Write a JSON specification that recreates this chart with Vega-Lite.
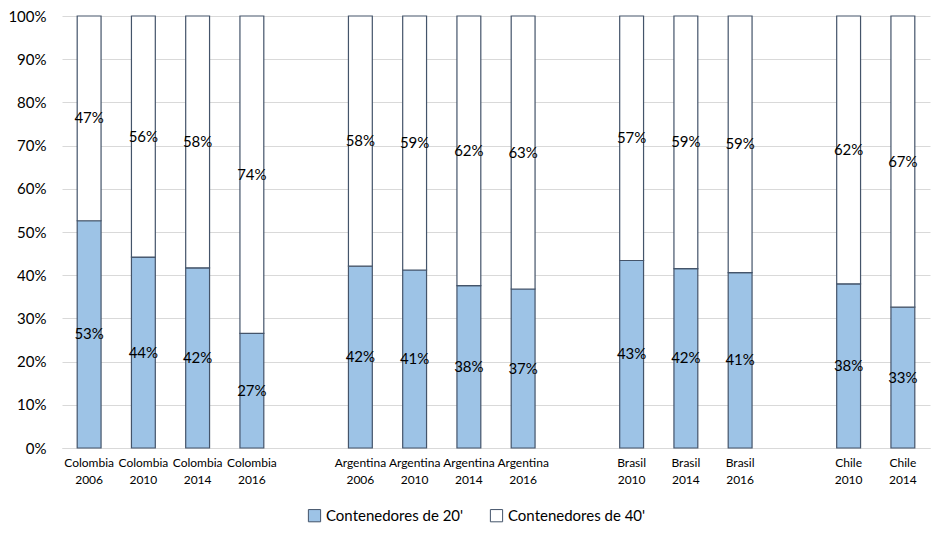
{
  "$schema": "https://vega.github.io/schema/vega-lite/v6.json",
  "width": 868,
  "height": 432,
  "autosize": "none",
  "padding": {"left": 62, "top": 16, "right": 4, "bottom": 86},
  "background": "white",
  "config": {
    "view": {"stroke": null},
    "font": "Lato",
    "axis": {"labelFont": "Lato", "labelColor": "#000000"},
    "legend": {"labelFont": "Lato"}
  },
  "data": {
    "values": [
      {"cat": "Colombia 2006", "serie": "Contenedores de 20'", "share": 0.526},
      {"cat": "Colombia 2006", "serie": "Contenedores de 40'", "share": 0.474},
      {"cat": "Colombia 2010", "serie": "Contenedores de 20'", "share": 0.442},
      {"cat": "Colombia 2010", "serie": "Contenedores de 40'", "share": 0.558},
      {"cat": "Colombia 2014", "serie": "Contenedores de 20'", "share": 0.417},
      {"cat": "Colombia 2014", "serie": "Contenedores de 40'", "share": 0.583},
      {"cat": "Colombia 2016", "serie": "Contenedores de 20'", "share": 0.266},
      {"cat": "Colombia 2016", "serie": "Contenedores de 40'", "share": 0.736},
      {"cat": "Argentina 2006", "serie": "Contenedores de 20'", "share": 0.421},
      {"cat": "Argentina 2006", "serie": "Contenedores de 40'", "share": 0.579},
      {"cat": "Argentina 2010", "serie": "Contenedores de 20'", "share": 0.412},
      {"cat": "Argentina 2010", "serie": "Contenedores de 40'", "share": 0.588},
      {"cat": "Argentina 2014", "serie": "Contenedores de 20'", "share": 0.376},
      {"cat": "Argentina 2014", "serie": "Contenedores de 40'", "share": 0.624},
      {"cat": "Argentina 2016", "serie": "Contenedores de 20'", "share": 0.368},
      {"cat": "Argentina 2016", "serie": "Contenedores de 40'", "share": 0.632},
      {"cat": "Brasil 2010", "serie": "Contenedores de 20'", "share": 0.434},
      {"cat": "Brasil 2010", "serie": "Contenedores de 40'", "share": 0.566},
      {"cat": "Brasil 2014", "serie": "Contenedores de 20'", "share": 0.416},
      {"cat": "Brasil 2014", "serie": "Contenedores de 40'", "share": 0.586},
      {"cat": "Brasil 2016", "serie": "Contenedores de 20'", "share": 0.406},
      {"cat": "Brasil 2016", "serie": "Contenedores de 40'", "share": 0.594},
      {"cat": "Chile 2010", "serie": "Contenedores de 20'", "share": 0.38},
      {"cat": "Chile 2010", "serie": "Contenedores de 40'", "share": 0.62},
      {"cat": "Chile 2014", "serie": "Contenedores de 20'", "share": 0.326},
      {"cat": "Chile 2014", "serie": "Contenedores de 40'", "share": 0.674}
    ]
  },
  "encoding": {
    "x": {
      "field": "cat",
      "type": "nominal",
      "sort": null,
      "scale": {
        "domain": ["Colombia 2006", "Colombia 2010", "Colombia 2014", "Colombia 2016", "gap1",
                   "Argentina 2006", "Argentina 2010", "Argentina 2014", "Argentina 2016", "gap2",
                   "Brasil 2010", "Brasil 2014", "Brasil 2016", "gap3",
                   "Chile 2010", "Chile 2014"],
        "paddingInner": 0.56,
        "paddingOuter": 0.28
      },
      "axis": {
        "title": null,
        "labelAngle": 0,
        "labelFontSize": 12,
        "labelLineHeight": 17,
        "labelPadding": 9,
        "ticks": false,
        "domainColor": "#D9D9D9",
        "labelExpr": "indexof(datum.value, 'gap') == 0 ? '' : split(datum.value, ' ')"
      }
    },
    "y": {
      "field": "share",
      "type": "quantitative",
      "stack": "normalize",
      "scale": {"domain": [0, 1]},
      "axis": {
        "title": null,
        "format": ".0%",
        "values": [0, 0.1, 0.2, 0.3, 0.4, 0.5, 0.6, 0.7, 0.8, 0.9, 1],
        "labelFontSize": 15,
        "labelPadding": 16,
        "ticks": false,
        "domain": false,
        "gridColor": "#D9D9D9",
        "gridWidth": 1
      }
    },
    "order": {"field": "serie", "sort": "ascending"}
  },
  "layer": [
    {
      "mark": {"type": "bar", "stroke": "#44546A", "strokeWidth": 1.2},
      "encoding": {
        "color": {
          "field": "serie",
          "type": "nominal",
          "scale": {"domain": ["Contenedores de 20'", "Contenedores de 40'"], "range": ["#9DC3E6", "#FFFFFF"]},
          "legend": {
            "title": null,
            "orient": "none",
            "direction": "horizontal",
            "legendX": 245,
            "legendY": 492,
            "symbolType": "square",
            "symbolSize": 150,
            "symbolStrokeColor": "#44546A",
            "symbolStrokeWidth": 1,
            "labelFontSize": 15,
            "labelColor": "#000000",
            "columnPadding": 24,
            "labelOffset": 4
          }
        }
      }
    },
    {
      "mark": {"type": "text", "fontSize": 15, "color": "#000000", "baseline": "middle", "font": "Lato"},
      "encoding": {
        "y": {"field": "share", "type": "quantitative", "stack": "normalize", "bandPosition": 0.5},
        "text": {"field": "share", "type": "quantitative", "format": ".0%"}
      }
    }
  ]
}
